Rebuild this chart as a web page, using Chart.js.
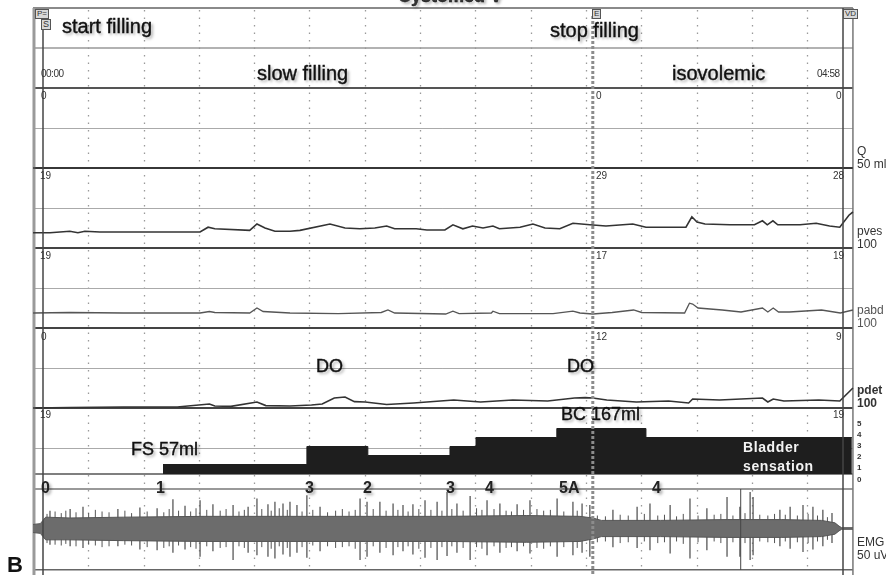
<!DOCTYPE html>
<html>
<head>
<meta charset="utf-8">
<script src="https://cdn.jsdelivr.net/npm/chart.js@4.4.1/dist/chart.umd.min.js"></script>
<style>
  body { margin:0; background:#fff; }
  #wrap { position:relative; width:886px; height:575px; overflow:hidden; font-family:"Liberation Sans", Arial, sans-serif; }
  canvas { position:absolute; left:0; top:0; }
  .t { position:absolute; white-space:nowrap; line-height:1; color:#1c1c1c; }
  .big { font-size:20px; color:#111; -webkit-text-stroke:0.4px #111; text-shadow:2px 2px 3px rgba(0,0,0,.35); }
  .mid { font-size:18px; color:#111; -webkit-text-stroke:0.4px #111; text-shadow:2px 2px 3px rgba(0,0,0,.35); }
  .lvl { font-size:16px; font-weight:bold; color:#222; text-shadow:2px 2px 3px rgba(0,0,0,.35); }
  .num { font-size:10px; color:#333; }
  .side { font-size:12px; color:#333; line-height:13px; }
  .tiny { font-size:8px; font-weight:bold; color:#333; }
  .box { font-size:8px; border:1px solid #555; background:#d8d8d8; padding:0 1px; color:#333; }
  .wht { font-size:14px; font-weight:bold; color:#f4f4f4; letter-spacing:0.6px; }
</style>
</head>
<body>
<div id="wrap">
  <canvas id="chart" width="886" height="575"></canvas>

  <div class="t mid" style="left:398px; top:-13px; font-weight:bold; color:#333;">Cystomed V</div>
  <div class="t box" style="left:35px; top:9px;">P=</div>
  <div class="t box" style="left:41px; top:19px; font-size:9px;">S</div>
  <div class="t box" style="left:592px; top:9px;">E</div>
  <div class="t box" style="left:843px; top:9px;">VD</div>

  <div class="t big" style="left:62px; top:16px;">start filling</div>
  <div class="t big" style="left:550px; top:20px;">stop filling</div>
  <div class="t big" style="left:257px; top:63px;">slow filling</div>
  <div class="t big" style="left:672px; top:63px;">isovolemic</div>
  <div class="t num" style="left:41px; top:69px; letter-spacing:-0.5px;">00:00</div>
  <div class="t num" style="left:817px; top:69px; letter-spacing:-0.5px;">04:58</div>

  <div class="t num" style="left:41px; top:91px;">0</div>
  <div class="t num" style="left:40px; top:171px;">19</div>
  <div class="t num" style="left:40px; top:251px;">19</div>
  <div class="t num" style="left:41px; top:332px;">0</div>
  <div class="t num" style="left:40px; top:410px;">19</div>

  <div class="t num" style="left:596px; top:91px;">0</div>
  <div class="t num" style="left:596px; top:171px;">29</div>
  <div class="t num" style="left:596px; top:251px;">17</div>
  <div class="t num" style="left:596px; top:332px;">12</div>

  <div class="t num" style="left:836px; top:91px;">0</div>
  <div class="t num" style="left:833px; top:171px;">28</div>
  <div class="t num" style="left:833px; top:251px;">19</div>
  <div class="t num" style="left:836px; top:332px;">9</div>
  <div class="t num" style="left:833px; top:410px;">19</div>

  <div class="t side" style="left:857px; top:145px;">Q<br>50 ml/s</div>
  <div class="t side" style="left:857px; top:225px;">pves<br>100</div>
  <div class="t side" style="left:857px; top:304px; color:#555;">pabd<br>100</div>
  <div class="t side" style="left:857px; top:384px; font-weight:bold;">pdet<br>100</div>
  <div class="t side" style="left:857px; top:536px;">EMG<br>50 uV</div>

  <div class="t tiny" style="left:857px; top:420px;">5</div>
  <div class="t tiny" style="left:857px; top:431px;">4</div>
  <div class="t tiny" style="left:857px; top:442px;">3</div>
  <div class="t tiny" style="left:857px; top:453px;">2</div>
  <div class="t tiny" style="left:857px; top:464px;">1</div>
  <div class="t tiny" style="left:857px; top:476px;">0</div>

  <div class="t mid" style="left:316px; top:357px;">DO</div>
  <div class="t mid" style="left:567px; top:357px;">DO</div>
  <div class="t mid" style="left:561px; top:405px;">BC 167ml</div>
  <div class="t mid" style="left:131px; top:440px;">FS 57ml</div>
  <div class="t wht" style="left:743px; top:440px;">Bladder</div>
  <div class="t wht" style="left:743px; top:459px;">sensation</div>

  <div class="t lvl" style="left:41px; top:480px;">0</div>
  <div class="t lvl" style="left:156px; top:480px;">1</div>
  <div class="t lvl" style="left:305px; top:480px;">3</div>
  <div class="t lvl" style="left:363px; top:480px;">2</div>
  <div class="t lvl" style="left:446px; top:480px;">3</div>
  <div class="t lvl" style="left:485px; top:480px;">4</div>
  <div class="t lvl" style="left:559px; top:480px;">5A</div>
  <div class="t lvl" style="left:652px; top:480px;">4</div>

  <div class="t" style="left:7px; top:554px; font-size:22px; font-weight:bold; color:#111;">B</div>
</div>

<script>
// time in seconds, pressures in cmH2O, EMG in uV
const qT = [-3.7, 301.7];
const qV = [0, 0];

const pvesT = [-3.7, 2.6, 10, 13, 15.6, 21.2, 36, 58.5, 61.5, 64, 77, 79.7, 82.7, 86.4, 92, 95.7, 106.9, 112.5, 118, 123.6,
  128, 131, 139, 143, 149.7, 152.7, 156.4, 160, 163.9, 167.6, 170, 177.7, 182.5, 187, 192.5, 197.4, 203.7, 209.7, 219.7, 224.6,
  239.5, 241.7, 243.6, 246.6, 255.9, 265, 268, 269.8, 271.9, 273.7, 282, 288, 293, 296.8, 300.2, 301.7];
const pvesV = [19, 19, 21, 19, 21, 20, 20, 20, 26, 24, 22, 30, 25, 21, 21, 22, 30, 25, 24, 25,
  27.5, 24, 24, 22.5, 22.5, 29, 24, 27.5, 25, 27.5, 24, 26, 30, 25, 24, 31, 29, 27.5, 30, 26,
  26, 39, 32.5, 30, 29, 29, 34, 29, 34, 29, 29, 31, 27.5, 26, 41, 45];

const pabdT = [-3.7, 10, 30, 58.5, 62, 64, 77, 79.7, 82, 92, 110, 126, 128.5, 131, 150, 152.7, 155, 167, 167.6, 170,
  190, 197.4, 200, 204.8, 212, 220, 223, 239, 240.8, 242, 244, 253, 260, 268, 270, 272, 274, 278, 290, 297, 301.7];
const pabdV = [18.75, 19.4, 18.75, 18.75, 20.6, 19.4, 18.75, 25, 20.6, 18.75, 18, 19.4, 22.5, 18.75, 17.5, 21, 18, 18.75, 21, 18,
  18, 21, 18.75, 17.5, 19.4, 22.5, 19.4, 18.75, 31, 30, 25, 22.5, 20, 25, 20, 25, 20, 20, 22.5, 18.75, 22.5];

const pdetT = [-3.7, 10, 30, 50, 62, 64, 70, 79.7, 83, 92, 100, 104, 108.5, 112.5, 116, 120, 128, 138, 153, 163,
  175, 188, 198, 202, 204.8, 210, 221, 233, 240.5, 242, 252, 268, 270, 272, 276, 289, 296.8, 300.2, 301.7];
const pdetV = [0, 0.6, 1.25, 1.25, 5, 2.5, 2, 7.5, 3, 2.5, 3.75, 5, 12.5, 13.75, 8, 7.5, 4.4, 6.25, 10, 7.5,
  10, 8.75, 12.5, 13, 12.5, 10, 7.5, 8.75, 6.25, 11.25, 10, 12.5, 7.5, 11.25, 8.75, 10, 8.75, 20, 25];

// bladder sensation level (stepped)
const sensT = [44.7, 98.3, 121, 151.6, 161.3, 191.4, 224.6, 301.3];
const sensV = [1, 3, 2, 3, 4, 5, 4, 4];

// EMG core envelope
const emgT  = [-3.7, -1, 0, 1, 10, 30, 60, 90, 120, 150, 180, 200, 204.8, 208, 230, 255, 275, 290, 295, 296.5, 297.5, 301.7];
const emgHi = [5, 6, 10, 14, 13, 14, 15, 15, 15, 15, 16, 15, 13, 10, 10, 11, 11, 10, 7, 3, 1, 1];
const emgLo = [-5, -6, -10, -14, -14, -15, -16, -16, -16, -16, -17, -16, -13, -10, -10, -11, -11, -10, -7, -3, -1, -1];

// EMG large spikes
const spikeT  = [2.6, 10.1, 14.9, 27.9, 36.1, 42.5, 48.4, 52.9, 58.5, 63.3, 70.8, 76.4, 79.7, 83.8, 86.4, 89.4, 92, 94.6, 98.3, 103.2,
  118.1, 120.7, 125.5, 130.4, 134.1, 137.8, 142.3, 146.8, 150.5, 154.2, 159.1, 165.4, 170.2, 176.6, 181.4, 191.5, 197.4, 200.8, 203.7,
  212.3, 221.3, 226.1, 233.6, 241, 247.3, 254.8, 259.6, 263.4, 264.5, 274.5, 278.3, 283.1, 286.8, 290.5, 293.9];
const spikeHi = [22, 24, 27, 24, 26, 25, 36, 28, 35, 30, 29, 27, 37, 30, 33, 31, 33, 29, 41, 27,
  37, 33, 33, 31, 29, 30, 35, 33, 45, 31, 40, 35, 31, 30, 35, 37, 33, 31, 29,
  23, 27, 31, 29, 37, 25, 39, 27, 45, 39, 23, 27, 29, 27, 23, 19];
const spikeLo = [-20, -22, -24, -22, -26, -27, -30, -26, -35, -28, -39, -30, -33, -35, -37, -32, -35, -30, -36, -28,
  -39, -35, -30, -33, -28, -32, -36, -39, -34, -30, -39, -33, -30, -28, -31, -35, -33, -30, -35,
  -23, -24, -27, -31, -37, -27, -35, -35, -39, -33, -22, -25, -29, -26, -22, -18];

// EMG small spikes along the band edge
const minorT  = [1.5, 4.5, 6.8, 8.5, 12.3, 17, 19.5, 22, 24.6, 30.5, 33, 38.8, 45, 47, 50.5, 55, 57, 61, 66, 68.2,
  73, 75, 81.5, 85, 88, 91, 96.5, 100.5, 106, 109, 111.5, 114, 116.3, 123, 127.8, 132.2, 136, 140, 144.5, 148.6,
  152.3, 156.5, 161.5, 163.5, 168, 172.5, 174.5, 179, 184, 186.5, 189, 194, 199, 206.5, 209.5, 215, 218, 224, 229, 231.5,
  236, 238.5, 244, 250, 252.5, 257, 261.5, 267, 270, 272.5, 276.5, 281, 285, 288.5, 292.2, 295.5];
const minorHi = [18, 21, 19, 22, 20, 19, 23, 21, 20, 22, 19, 21, 20, 24, 22, 21, 25, 23, 22, 24,
  21, 23, 24, 22, 25, 23, 21, 23, 20, 22, 24, 21, 23, 24, 22, 23, 21, 24, 23, 22,
  24, 22, 25, 23, 24, 22, 21, 23, 24, 22, 23, 21, 22, 16, 15, 17, 16, 18, 16, 17,
  15, 18, 16, 17, 18, 16, 19, 17, 16, 18, 17, 16, 18, 16, 14];
const minorLo = [-18, -20, -21, -19, -22, -20, -21, -23, -22, -20, -21, -23, -24, -22, -21, -23, -25, -22, -24, -23,
  -22, -24, -23, -25, -22, -24, -23, -21, -22, -24, -23, -22, -25, -22, -24, -23, -22, -25, -24, -23,
  -22, -24, -23, -25, -22, -24, -23, -22, -24, -25, -22, -23, -24, -17, -16, -18, -17, -16, -18, -17,
  -16, -19, -17, -16, -18, -17, -18, -16, -17, -18, -16, -17, -18, -16, -14];

const markStart = 0, markStop = 204.8, markEnd = 298, markEmg = 259.9;
const frameStart = -3.73, frameEnd = 301.7, gridStep = 20.6;

const pts = (ts, vs) => ts.map((t, i) => ({ x: t, y: vs[i] }));
const segs = (ts, lo, hi) => {
  const out = [];
  ts.forEach((t, i) => out.push({ x: t, y: lo[i] }, { x: t, y: hi[i] }, { x: t, y: null }));
  return out;
};

function line(ctx, x1, y1, x2, y2) {
  ctx.beginPath(); ctx.moveTo(x1, y1); ctx.lineTo(x2, y2); ctx.stroke();
}

const framePlugin = {
  id: 'frame',
  beforeDatasetsDraw(chart) {
    const { ctx, scales } = chart;
    const x = scales.x;
    const L = x.getPixelForValue(frameStart), R = x.getPixelForValue(frameEnd);
    ctx.save();
    ctx.fillStyle = '#fff';
    ctx.fillRect(0, 0, chart.width, chart.height);

    // dotted time grid
    ctx.strokeStyle = '#9a9a9a'; ctx.lineWidth = 1.3; ctx.setLineDash([1.5, 6]);
    for (let t = frameStart + gridStep; t < frameEnd - 2; t += gridStep) {
      const px = Math.round(x.getPixelForValue(t)) + 0.5;
      line(ctx, px, 10, px, 570);
    }
    ctx.setLineDash([]);

    // header rows
    ctx.strokeStyle = '#8a8a8a'; ctx.lineWidth = 2; line(ctx, L, 8, R, 8);
    ctx.strokeStyle = '#999'; ctx.lineWidth = 1.5; line(ctx, L, 48, R, 48);
    ctx.strokeStyle = '#555'; ctx.lineWidth = 2; line(ctx, L, 88, R, 88);

    // pressure / flow panels
    [['yQ', 50], ['yPves', 100], ['yPabd', 100], ['yPdet', 100]].forEach(([id, full]) => {
      const s = scales[id];
      const m = Math.round(s.getPixelForValue(full / 2)) + 0.5;
      ctx.strokeStyle = '#aaa'; ctx.lineWidth = 1;
      line(ctx, L, m, R, m);
      ctx.strokeStyle = '#444'; ctx.lineWidth = 2;
      line(ctx, L, s.getPixelForValue(0), R, s.getPixelForValue(0));
    });

    // sensation panel, level strip, EMG
    const ys = scales.ySens;
    ctx.strokeStyle = '#aaa'; ctx.lineWidth = 1; line(ctx, L, 448.5, R, 448.5);
    ctx.strokeStyle = '#555'; ctx.lineWidth = 1.5; line(ctx, L, ys.getPixelForValue(-0.06), R, ys.getPixelForValue(-0.06));
    ctx.strokeStyle = '#777'; line(ctx, L, 489, R, 489);
    const ye = scales.yEmg;
    ctx.strokeStyle = '#666'; line(ctx, L, ye.getPixelForValue(-51), R, ye.getPixelForValue(-51));

    // frame verticals
    ctx.strokeStyle = '#9a9a9a'; ctx.lineWidth = 3; line(ctx, L + 1, 8, L + 1, 575);
    ctx.strokeStyle = '#777'; ctx.lineWidth = 1.5; line(ctx, R, 8, R, 575);
    ctx.restore();
  },
  afterDatasetsDraw(chart) {
    const { ctx, scales } = chart;
    const x = scales.x;
    ctx.save();
    ctx.strokeStyle = '#444'; ctx.lineWidth = 1.5;
    line(ctx, x.getPixelForValue(markStart), 28, x.getPixelForValue(markStart), 575);
    line(ctx, x.getPixelForValue(markEnd), 8, x.getPixelForValue(markEnd), 575);
    ctx.lineWidth = 1;
    line(ctx, x.getPixelForValue(markEmg), 489, x.getPixelForValue(markEmg), 570);
    ctx.strokeStyle = '#8c8c8c'; ctx.lineWidth = 3; ctx.setLineDash([3, 2]);
    line(ctx, x.getPixelForValue(markStop), 16, x.getPixelForValue(markStop), 575);
    ctx.restore();
  }
};

// each panel axis maps onto its own band of the 575 px canvas
const band = (zeroPx, pxPerUnit) => {
  const max = zeroPx / pxPerUnit;
  return { min: max - 575 / pxPerUnit, max: max };
};
const yAxis = (b) => ({ axis: 'y', type: 'linear', display: false, min: b.min, max: b.max });
const xPerSec = 800 / 298;

const trace = (data, yAxisID, color, width) => ({
  data, yAxisID, borderColor: color, borderWidth: width, pointRadius: 0, tension: 0, fill: false
});

new Chart(document.getElementById('chart'), {
  type: 'line',
  data: {
    datasets: [
      trace(pts(qT, qV), 'yQ', '#333', 1.5),
      trace(pts(pvesT, pvesV), 'yPves', '#333', 1.6),
      trace(pts(pabdT, pabdV), 'yPabd', '#555', 1.3),
      trace(pts(pdetT, pdetV), 'yPdet', '#333', 1.6),
      {
        data: pts(sensT, sensV), yAxisID: 'ySens', stepped: 'before',
        borderColor: '#1e1e1e', borderWidth: 1, backgroundColor: '#1e1e1e',
        fill: { value: -0.06 }, pointRadius: 0
      },
      {
        data: pts(emgT, emgHi), yAxisID: 'yEmg', borderColor: '#555', borderWidth: 1,
        pointRadius: 0, fill: false
      },
      {
        data: pts(emgT, emgLo), yAxisID: 'yEmg', borderColor: '#555', borderWidth: 1,
        backgroundColor: '#6c6c6c', pointRadius: 0, fill: '-1'
      },
      {
        data: segs(minorT, minorLo, minorHi), yAxisID: 'yEmg', borderColor: '#555', borderWidth: 1,
        pointRadius: 0, spanGaps: false, fill: false
      },
      {
        data: segs(spikeT, spikeLo, spikeHi), yAxisID: 'yEmg', borderColor: '#4a4a4a', borderWidth: 1.2,
        pointRadius: 0, spanGaps: false, fill: false
      }
    ]
  },
  options: {
    responsive: false,
    animation: false,
    devicePixelRatio: 1,
    layout: { padding: 0 },
    plugins: { legend: { display: false }, tooltip: { enabled: false } },
    scales: {
      x: { type: 'linear', display: false, min: -43 / xPerSec, max: (886 - 43) / xPerSec },
      yQ: yAxis(band(168, 1.6)),
      yPves: yAxis(band(248, 0.8)),
      yPabd: yAxis(band(328, 0.8)),
      yPdet: yAxis(band(408, 0.8)),
      ySens: yAxis(band(473.5, 9)),
      yEmg: yAxis(band(528.5, 0.81))
    }
  },
  plugins: [framePlugin]
});
</script>
</body>
</html>
